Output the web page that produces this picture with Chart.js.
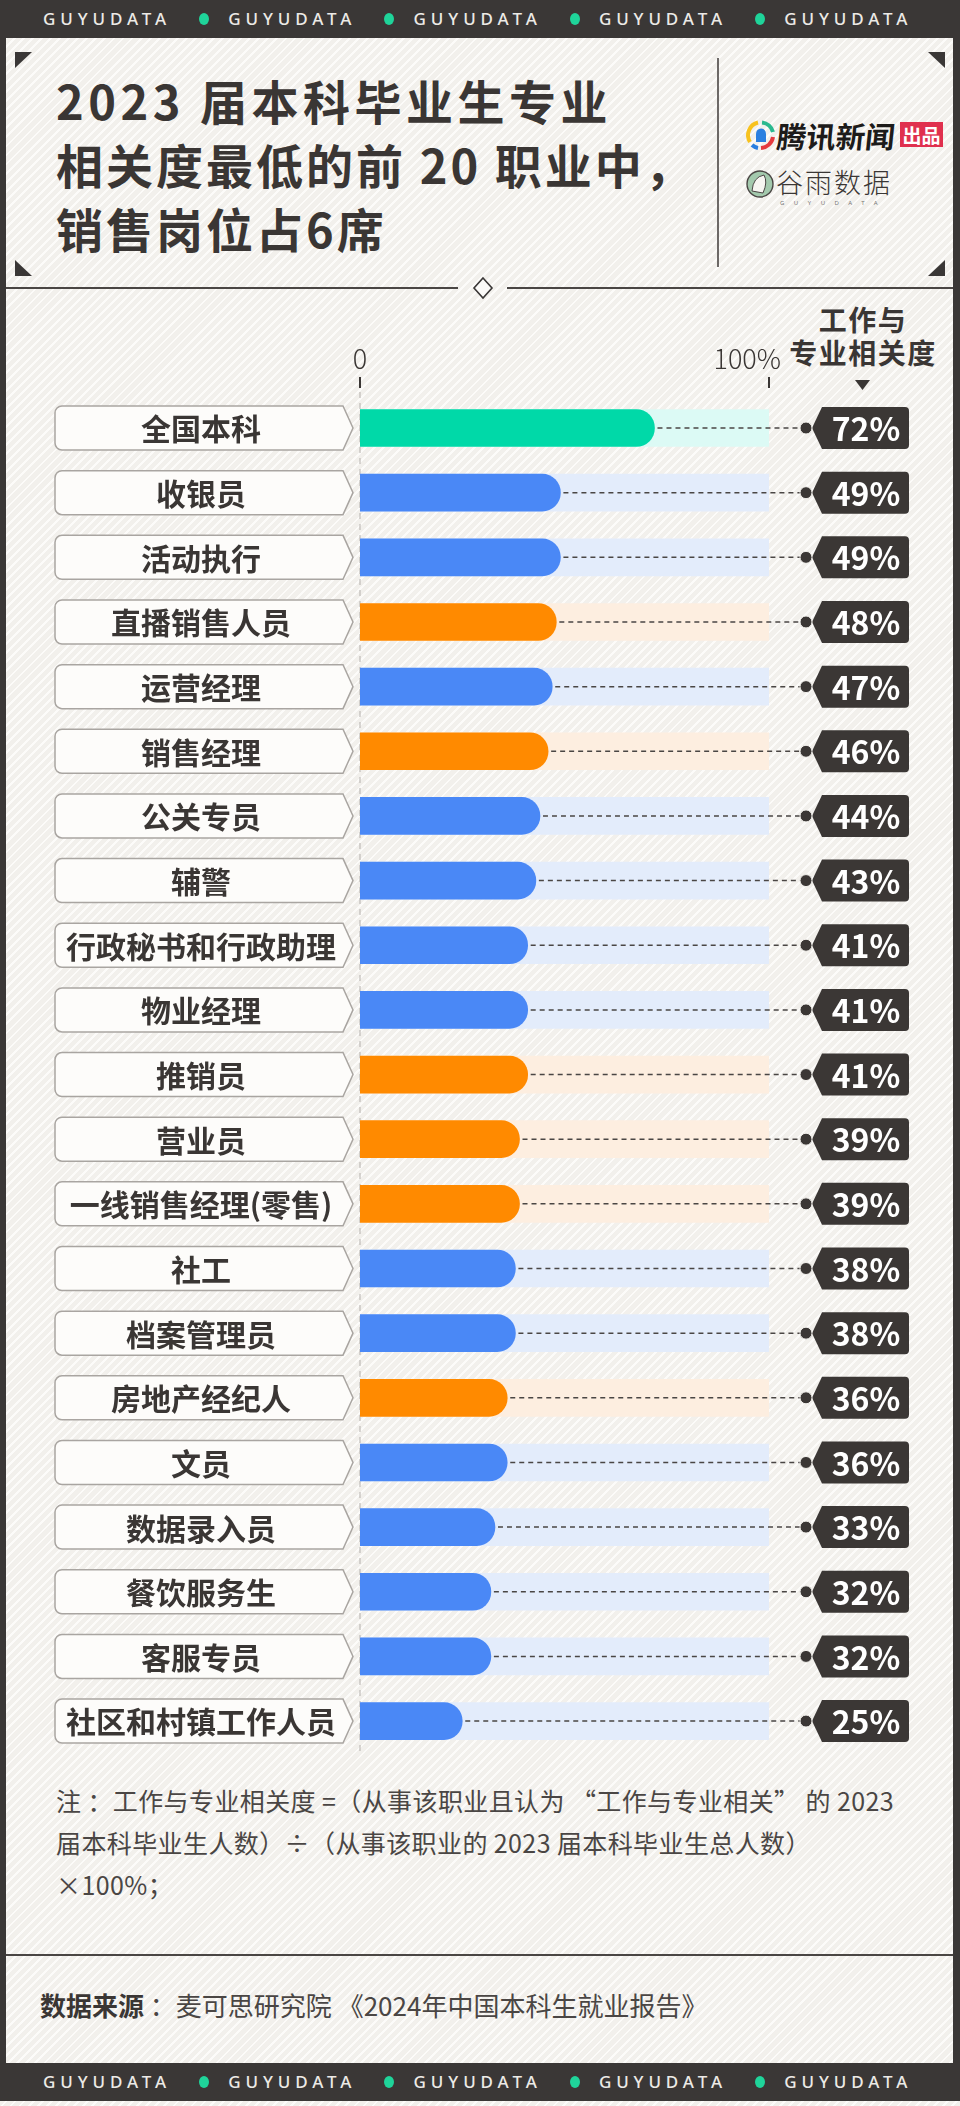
<!DOCTYPE html>
<html lang="zh">
<head>
<meta charset="utf-8">
<script src="https://cdn.jsdelivr.net/npm/chart.js@4.4.1/dist/chart.umd.min.js"></script>
<style>
html, body { margin: 0; padding: 0; }
body {
  width: 960px; height: 2106px; position: relative; overflow: hidden;
  font-family: "Noto Sans CJK SC", "Noto Sans", sans-serif; color: #3a3634;
  background-color: #f2f0ec;
  background-image: repeating-linear-gradient(135deg, #f2f0ec 0px, #f2f0ec 4.4px, #fcfbf9 4.4px, #fcfbf9 6.4px);
}
.abs { position: absolute; }
.band { position: absolute; left: 0; width: 960px; height: 38px; background: #3a3736; }
.band span.w { position: absolute; top: 0; line-height: 38px; font-family: "Noto Sans", sans-serif; font-weight: 500; font-size: 17px; letter-spacing: 4.9px; color: #eceae6; }
.band span.d { position: absolute; top: 13px; width: 10px; height: 12px; border-radius: 50%; background: #1fd49a; }
.frame { position: absolute; top: 38px; height: 2025px; background: #3a3736; }
.hline { position: absolute; height: 2px; background: #4a4644; }
#title { left: 56px; top: 68px; font-size: 47px; font-weight: 700; line-height: 64px; letter-spacing: 3px; color: #3a3634; }
#title .l1 { letter-spacing: 4.5px; }
#colhead { left: 780px; top: 303px; width: 166px; text-align: center; font-size: 28px; font-weight: 700; line-height: 33px; letter-spacing: 1.5px; color: #3a3634; }
#note { left: 56px; top: 1779px; font-size: 25px; line-height: 42px; letter-spacing: 0.4px; color: #4a4644; }
#source { left: 40px; top: 1987px; font-size: 26px; line-height: 36px; color: #4a4644; }
#source b { font-weight: 700; color: #3a3634; }
canvas { position: absolute; left: 0; top: 0; z-index: 2; pointer-events: none; }
</style>
</head>
<body>

<div class="band" id="bandTop" style="top:0"></div>
<div class="band" id="bandBottom" style="top:2063px"></div>
<div class="frame" style="left:0;width:6px"></div>
<div class="frame" style="left:953px;width:7px"></div>

<svg class="abs" style="left:0;top:0" width="960" height="300">
  <polygon points="15,52 32,52 15,68" fill="#3a3736"/>
  <polygon points="945,52 928,52 945,68" fill="#3a3736"/>
  <polygon points="15,260 15,276 32,276" fill="#3a3736"/>
  <polygon points="945,260 945,276 928,276" fill="#3a3736"/>
  <line x1="718" y1="58" x2="718" y2="267" stroke="#4a4644" stroke-width="1.6"/>
  <polygon points="483,278 492,288 483,298 474,288" fill="#fbfaf8" stroke="#3a3736" stroke-width="1.6"/>
  <!-- tencent news mark -->
  <g transform="translate(761,135)">
    <path d="M -3 -12.5 A 13 13 0 0 0 -11 7" fill="none" stroke="#f7c21e" stroke-width="4"/>
    <path d="M 1 -12.5 A 13 13 0 0 1 12 -3" fill="none" stroke="#2bb98f" stroke-width="4"/>
    <path d="M 12 2 A 13 13 0 0 1 0 13" fill="none" stroke="#e53a3f" stroke-width="4"/>
    <path d="M -9 10 A 13 13 0 0 0 -3 13" fill="none" stroke="#2a7fe0" stroke-width="4"/>
    <path d="M -5 7 L -5 -1 A 5 5.5 0 0 1 5 -1 L 5 7 Z" fill="#2a7fe0"/>
  </g>
  <g transform="translate(760,184)">
    <circle r="13" fill="#a3c9ad" stroke="#4a4644" stroke-width="1.4"/>
    <path d="M -8 7 Q -7 -7 4 -9 Q 8 -2 3 9 Z" fill="#f6f5f1" stroke="#4a4644" stroke-width="1"/>
  </g>
</svg>

<div class="abs" style="left:777px;top:119px;font-size:29.5px;font-weight:700;line-height:32px;color:#1d1b1a;transform:skewX(-6deg)">腾讯新闻</div>
<div class="abs" style="left:900px;top:122px;width:43px;height:25px;background:#e0304e;color:#fff;font-size:19px;font-weight:700;line-height:25px;text-align:center">出品</div>
<div class="abs" style="left:776px;top:167px;font-size:27px;font-weight:300;line-height:30px;letter-spacing:2px;color:#3a3634">谷雨数据</div>
<div class="abs" style="left:780px;top:199px;font-family:'Noto Sans';font-size:6px;line-height:8px;letter-spacing:9.5px;color:#777">GUYUDATA</div>

<div class="abs" id="title"><span class="l1">2023 届本科毕业生专业</span><br>相关度最低的前 20 职业中，<br>销售岗位占6席</div>

<div class="hline" style="top:287px;left:6px;width:452px"></div>
<div class="hline" style="top:287px;left:507px;width:446px"></div>

<div class="abs" id="colhead">工作与<br>专业相关度</div>
<svg class="abs" style="left:855px;top:380px" width="15" height="11"><polygon points="0,0 15,0 7.5,10" fill="#3a3634"/></svg>

<div class="abs" id="note">注 ：工作与专业相关度 =（从事该职业且认为 “工作与专业相关” 的 2023<br>届本科毕业生人数）÷（从事该职业的 2023 届本科毕业生总人数）<br>×100%；</div>

<div class="hline" style="top:1954px;left:6px;width:947px"></div>

<div class="abs" id="source"><b>数据来源</b> ：麦可思研究院 《2024年中国本科生就业报告》</div>

<canvas id="graph" width="960" height="2106"></canvas>

<script>
// occupations, top to bottom
const categories = ['全国本科', '收银员', '活动执行', '直播销售人员', '运营经理', '销售经理', '公关专员', '辅警',
  '行政秘书和行政助理', '物业经理', '推销员', '营业员', '一线销售经理(零售)', '社工', '档案管理员',
  '房地产经纪人', '文员', '数据录入员', '餐饮服务生', '客服专员', '社区和村镇工作人员'];
// 工作与专业相关度 (%)
const relevance = [72, 49, 49, 48, 47, 46, 44, 43, 41, 41, 41, 39, 39, 38, 38, 36, 36, 33, 32, 32, 25];
// all = 全国本科, sales = 销售岗位, other
const groups = ['all', 'other', 'other', 'sales', 'other', 'sales', 'other', 'other', 'other', 'other',
  'sales', 'sales', 'sales', 'other', 'other', 'sales', 'other', 'other', 'other', 'other', 'other'];
const trackValues = categories.map(() => 100);
const axisTicks = [0, 100];
const axisTickLabels = ['0', '100%'];

const barColors = { all: '#00d9a8', sales: '#ff8a00', other: '#4a88f6' };
const trackColors = { all: '#dcfaf5', sales: '#fdeee0', other: '#e3ecfb' };

// band text
['bandTop', 'bandBottom'].forEach(id => {
  let band = document.getElementById(id);
  for (let i = 0; i < 5; i++) {
    let w = document.createElement('span');
    w.className = 'w';
    w.style.left = (43 + i * 185.3) + 'px';
    w.textContent = 'GUYUDATA';
    band.appendChild(w);
    if (i < 4) {
      let d = document.createElement('span');
      d.className = 'd';
      d.style.left = (199 + i * 185.3) + 'px';
      band.appendChild(d);
    }
  }
});

function labelBox(ctx, cy) {
  const l = 55, r = 343, tip = 353, t = cy - 22, b = cy + 22, rad = 7;
  ctx.beginPath();
  ctx.moveTo(l + rad, t);
  ctx.lineTo(r, t);
  ctx.lineTo(tip, cy);
  ctx.lineTo(r, b);
  ctx.lineTo(l + rad, b);
  ctx.arcTo(l, b, l, b - rad, rad);
  ctx.lineTo(l, t + rad);
  ctx.arcTo(l, t, l + rad, t, rad);
  ctx.closePath();
  ctx.fillStyle = '#fdfcfa';
  ctx.fill();
  ctx.strokeStyle = '#a9a5a1';
  ctx.lineWidth = 1.5;
  ctx.stroke();
}

function valueTag(ctx, cy) {
  const tl = 812, tx = 822, tr = 909, h = 21, rad = 4;
  ctx.beginPath();
  ctx.moveTo(tl, cy);
  ctx.lineTo(tx, cy - h);
  ctx.lineTo(tr - rad, cy - h);
  ctx.quadraticCurveTo(tr, cy - h, tr, cy - h + rad);
  ctx.lineTo(tr, cy + h - rad);
  ctx.quadraticCurveTo(tr, cy + h, tr - rad, cy + h);
  ctx.lineTo(tx, cy + h);
  ctx.closePath();
  ctx.fillStyle = '#3b3735';
  ctx.fill();
  ctx.beginPath();
  ctx.arc(806, cy, 6, 0, Math.PI * 2);
  ctx.fill();
  ctx.strokeStyle = '#f2f0ec';
  ctx.lineWidth = 1;
  ctx.stroke();
}

const decor = {
  id: 'decor',
  beforeDatasetsDraw(chart) {
    const { ctx, scales: { x, y } } = chart;
    const x0 = x.getPixelForValue(0);
    ctx.save();
    ctx.strokeStyle = '#b3afab';
    ctx.lineWidth = 1;
    ctx.setLineDash([6, 5]);
    ctx.beginPath();
    ctx.moveTo(x0, 392);
    ctx.lineTo(x0, y.bottom + 2);
    ctx.stroke();
    ctx.setLineDash([]);
    axisTicks.forEach((v, i) => {
      const px = x.getPixelForValue(v);
      ctx.strokeStyle = '#3a3634';
      ctx.lineWidth = 2;
      ctx.beginPath();
      ctx.moveTo(px, 377);
      ctx.lineTo(px, 388);
      ctx.stroke();
      ctx.font = '300 27px "Noto Sans CJK SC"';
      ctx.fillStyle = '#3a3634';
      ctx.textBaseline = 'middle';
      ctx.textAlign = i === 0 ? 'center' : 'right';
      ctx.fillText(axisTickLabels[i], i === 0 ? px : px + 12, 359);
    });
    ctx.restore();
  },
  afterDatasetsDraw(chart) {
    const { ctx, scales: { x, y } } = chart;
    ctx.save();
    categories.forEach((c, i) => {
      const cy = y.getPixelForValue(i);
      const xe = x.getPixelForValue(relevance[i]);
      ctx.strokeStyle = '#4a4644';
      ctx.lineWidth = 1.5;
      ctx.setLineDash([5, 4]);
      ctx.beginPath();
      ctx.moveTo(xe + 3, cy);
      ctx.lineTo(802, cy);
      ctx.stroke();
      ctx.setLineDash([]);

      labelBox(ctx, cy);
      ctx.fillStyle = '#3a3634';
      ctx.font = '700 30px "Noto Sans CJK SC"';
      ctx.textAlign = 'center';
      ctx.textBaseline = 'middle';
      ctx.fillText(c, 201, cy + 1);

      valueTag(ctx, cy);
      ctx.fillStyle = '#ffffff';
      ctx.font = '700 32px "Noto Sans CJK SC"';
      ctx.fillText(relevance[i] + '%', 866, cy + 1);
    });
    ctx.restore();
  }
};

const graph = document.getElementById('graph').getContext('2d');
const myChart = new Chart(graph, {
  type: 'bar',
  data: {
    labels: categories,
    datasets: [{
      data: relevance,
      backgroundColor: groups.map(g => barColors[g]),
      borderRadius: 18.5,
      borderSkipped: 'start',
      grouped: false,
      barThickness: 37,
      order: 1
    }, {
      data: trackValues,
      backgroundColor: groups.map(g => trackColors[g]),
      borderRadius: 0,
      grouped: false,
      barThickness: 37,
      order: 2
    }]
  },
  options: {
    indexAxis: 'y',
    responsive: false,
    animation: false,
    devicePixelRatio: 1,
    layout: { padding: { left: 360, right: 191, top: 395.7, bottom: 352.6 } },
    scales: {
      x: { display: false, min: 0, max: 100 },
      y: { display: false }
    },
    plugins: {
      legend: { display: false },
      tooltip: { enabled: false }
    }
  },
  plugins: [decor]
});
</script>
</body>
</html>
